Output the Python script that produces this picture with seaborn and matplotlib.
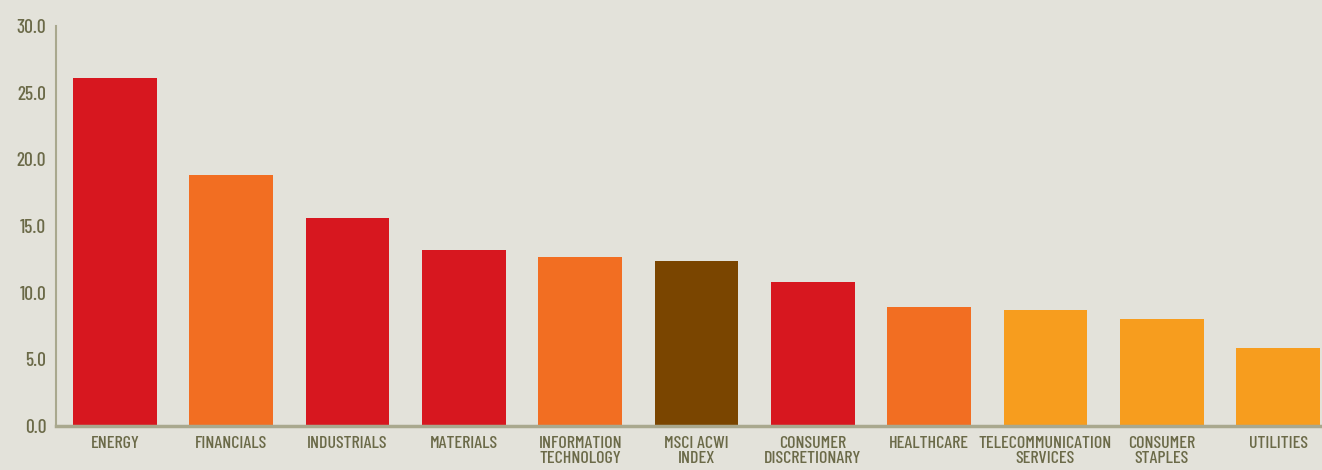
import matplotlib
matplotlib.use('Agg')
import matplotlib.pyplot as plt
import seaborn as sns

# --- data ---
sectors = ['ENERGY', 'FINANCIALS', 'INDUSTRIALS', 'MATERIALS',
           'INFORMATION\nTECHNOLOGY', 'MSCI ACWI\nINDEX', 'CONSUMER\nDISCRETIONARY',
           'HEALTHCARE', 'TELECOMMUNICATION\nSERVICES', 'CONSUMER\nSTAPLES', 'UTILITIES']
values = [26.1, 18.8, 15.6, 13.2, 12.7, 12.4, 10.8, 8.95, 8.7, 8.05, 5.85]
bar_colors = ['#D7171F', '#F26E22', '#D7171F', '#D7171F', '#F26E22', '#7A4500',
              '#D7171F', '#F26E22', '#F79D1E', '#F79D1E', '#F79D1E']
yticks = [0, 5, 10, 15, 20, 25, 30]

bg = '#E3E2DA'
axis_col = '#A9A88E'
text_col = '#6B6A48'

sns.set_theme(style='white')
plt.rcParams['font.family'] = ['Barlow Condensed', 'DejaVu Sans']
plt.rcParams['font.weight'] = 'medium'

fig = plt.figure(figsize=(13.22, 4.70), dpi=100, facecolor=bg)
ax = fig.add_axes([56 / 1322, 44 / 470, 1 - 56 / 1322, 400 / 470])
ax.set_facecolor(bg)

sns.barplot(x=sectors, y=values, hue=sectors, palette=bar_colors, width=0.72,
            saturation=1, legend=False, linewidth=0, ax=ax)

ax.set_xlim(-0.507, 10.378)
ax.set_ylim(0, 30)
ax.set_yticks(yticks)
ax.set_yticklabels([f'{v:.1f}' for v in yticks])
ax.tick_params(axis='y', length=0, colors=text_col, labelsize=14, pad=7)
ax.tick_params(axis='x', length=0, colors=text_col, labelsize=13, pad=7)
for lbl in ax.get_xticklabels():
    lbl.set_linespacing(1.05)
ax.set_xlabel('')
ax.set_ylabel('')

for side in ['top', 'right']:
    ax.spines[side].set_visible(False)
ax.spines['left'].set_color(axis_col)
ax.spines['left'].set_linewidth(1.5)
ax.spines['bottom'].set_color(axis_col)
ax.spines['bottom'].set_linewidth(2.5)

fig.savefig('out.png', dpi=100, facecolor=bg)
